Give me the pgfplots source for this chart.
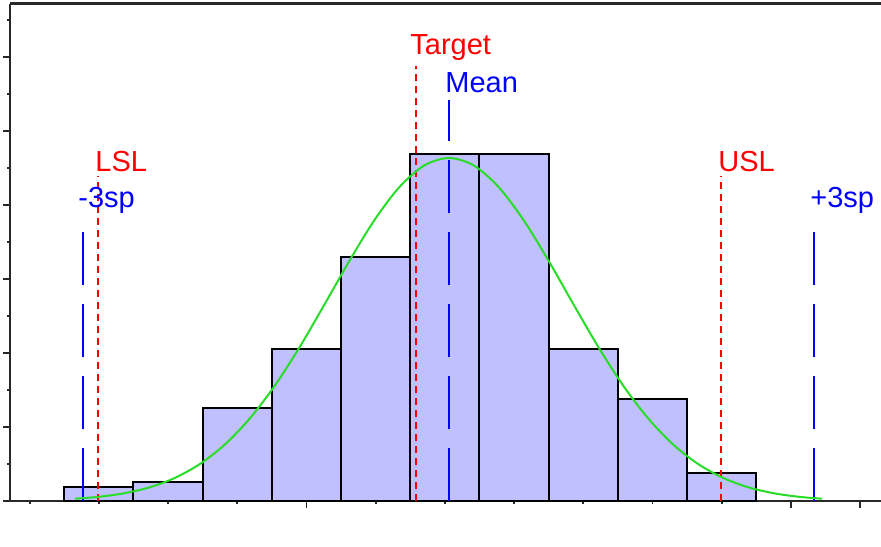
\documentclass[border=0pt]{standalone}
\usepackage{pgfplots}
\pgfplotsset{compat=1.18}
\usepackage{fontspec}
\setmainfont{Liberation Sans}
\definecolor{barfill}{RGB}{192,192,255}
\definecolor{curvegreen}{RGB}{40,220,40}
\definecolor{axisgray}{RGB}{40,40,40}
\newcommand{\lbl}{\fontsize{14.5}{17}\selectfont}

\begin{document}
\begin{tikzpicture}
% page = reference frame (1 px = 0.5 pt), axis corner at the origin
\useasboundingbox (-5pt,-22.5pt) rectangle (435.5pt,250.5pt);
\begin{axis}[
  at={(0pt,0pt)}, anchor=south west,
  scale only axis, width=435.5pt, height=248.5pt,
  xmin=10, xmax=881, ymin=0, ymax=497,
  axis x line*=bottom, axis y line*=left,
  axis line style={axisgray, line width=1.2pt},
  clip=false,
  xtick={306.4,790.8,860},
  minor xtick={29.6,98.8,168,237.2,375.6,444.8,514,583.2,652.4,721.6},
  ytick={0,74,148,222,296,370,444},
  minor ytick={37,111,185,259,333,407,481},
  xticklabels={}, yticklabels={},
  tick align=outside,
  major tick length=3.5pt, minor tick length=1.5pt,
  tick style={axisgray, line width=0.9pt},
]
% histogram bins (left edges, counts as bar heights)
\addplot[ybar interval, fill=barfill, draw=black, line width=1pt] coordinates {
  (64.2,14) (133.4,19) (202.6,93) (271.8,152) (341,244) (410.2,347)
  (479.4,347) (548.6,152) (617.8,102) (687,28) (756.2,28)};

% limit lines
\addplot[red, line width=0.8pt, dash pattern=on 3.5pt off 2.5pt] coordinates {(98,0) (98,325)};
\addplot[red, line width=0.8pt, dash pattern=on 3.5pt off 2.5pt] coordinates {(416,0) (416,435)};
\addplot[red, line width=0.8pt, dash pattern=on 3.5pt off 2.5pt] coordinates {(721,0) (721,325)};
\addplot[color=blue, line width=1pt, dash pattern=on 26.5pt off 9.5pt] coordinates {(83,0) (83,288)};
\addplot[color=blue, line width=1pt, dash pattern=on 26.5pt off 9.5pt] coordinates {(449,0) (449,401)};
\addplot[color=blue, line width=1pt, dash pattern=on 26.5pt off 9.5pt] coordinates {(814,0) (814,288)};

% fitted normal curve
\addplot[curvegreen, line width=1pt, smooth] coordinates {
  (75,2.3)(99,4.2)(124,7.7)(149,13.5)(174,22.7)(199,36.4)(224,55.7)(249,81.6)
  (274,114.2)(299,152.9)(324,195.7)(349,239.5)(374,280.3)(399,313.5)(424,335.4)
  (449,343)(474,335.4)(499,313.5)(524,280.3)(549,239.5)(574,195.7)(599,152.9)
  (624,114.2)(649,81.6)(674,55.7)(699,36.4)(724,22.7)(749,13.5)(774,7.7)
  (799,4.2)(822,2.3)};

\node[anchor=base west, text=red, inner sep=0pt, font=\lbl] at (axis cs:410,446) {Target};
\node[anchor=base west, text=blue, inner sep=0pt, font=\lbl] at (axis cs:445,408) {Mean};
\node[anchor=base west, text=red, inner sep=0pt, font=\lbl] at (axis cs:95,329) {LSL};
\node[anchor=base west, text=blue, inner sep=0pt, font=\lbl] at (axis cs:78,293) {-3sp};
\node[anchor=base west, text=red, inner sep=0pt, font=\lbl] at (axis cs:718,329) {USL};
\node[anchor=base west, text=blue, inner sep=0pt, font=\lbl] at (axis cs:810,293) {+3sp};

\draw[axisgray, line width=1.5pt] (axis cs:10,497) -- (axis cs:881,497);
\draw[axisgray, line width=1.2pt] (axis cs:5,0) -- (axis cs:10,0);
\end{axis}
\end{tikzpicture}
\end{document}
